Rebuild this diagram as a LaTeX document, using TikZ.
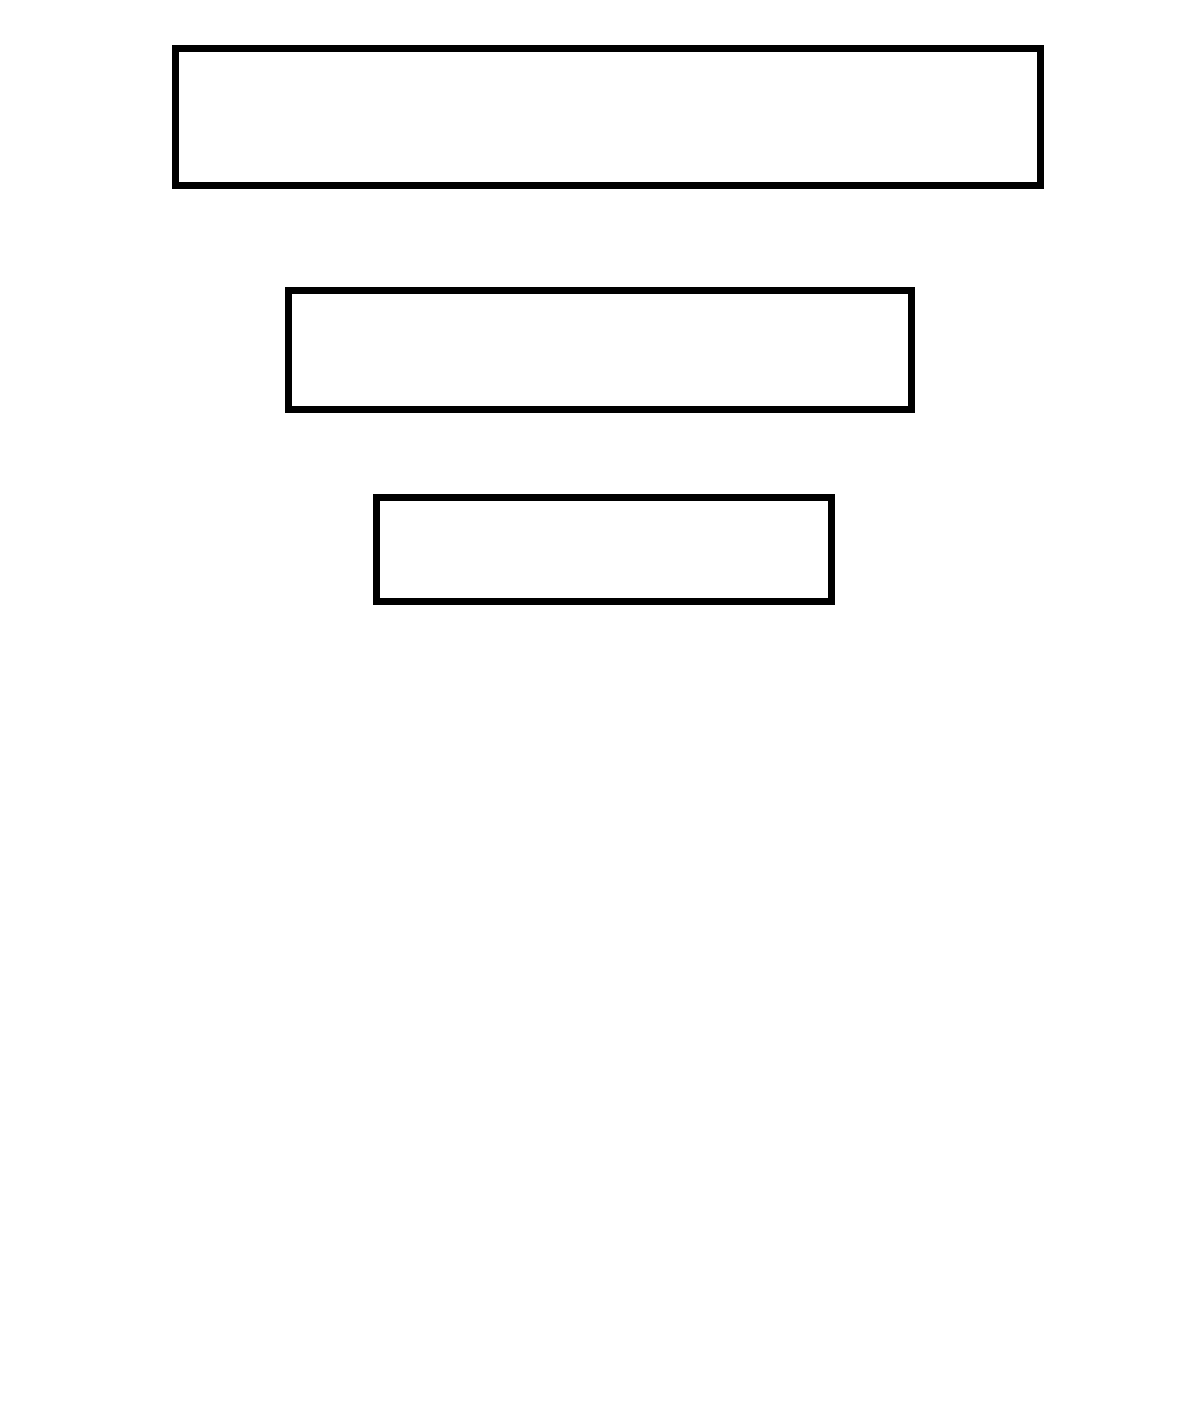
\documentclass[tikz,border=0pt]{standalone}
\begin{document}
\begin{tikzpicture}[x=0.5pt,y=-0.5pt,
  boxnode/.style={draw=black,line width=3.5pt,fill=white,inner sep=0pt,outer sep=0pt}]
\useasboundingbox[fill=white] (0,0) rectangle (1200,1426);
\node[boxnode,minimum width=432.25pt,minimum height=68.5pt] (b1) at (607.75,117) {};
\node[boxnode,minimum width=311.5pt,minimum height=59.5pt] (b2) at (600,349.5) {};
\node[boxnode,minimum width=227.5pt,minimum height=52pt] (b3) at (604,549) {};
\end{tikzpicture}
\end{document}
